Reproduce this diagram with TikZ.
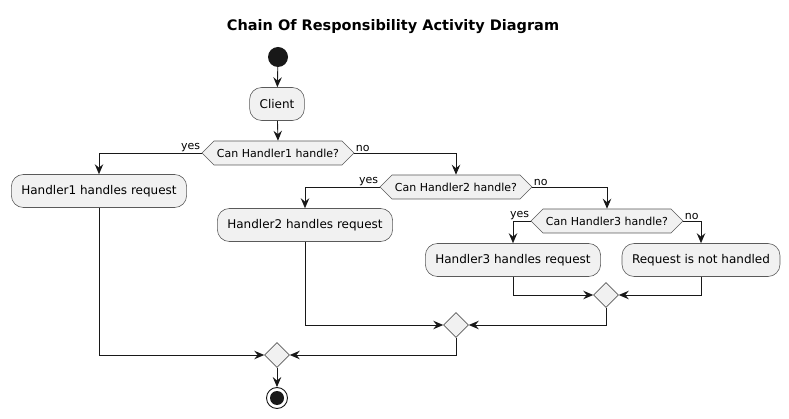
\documentclass[tikz,border=0pt]{standalone}
\usepackage{fontspec}
\setmainfont{DejaVu Sans}
\usetikzlibrary{arrows.meta,shapes.geometric,shapes.symbols}
\definecolor{boxfill}{HTML}{F1F1F1}
\definecolor{linecol}{HTML}{181818}
\definecolor{bordercol}{HTML}{5A5A5A}
\tikzset{
  actbox/.style={draw=bordercol, line width=0.6pt, fill=boxfill, rounded corners=12pt,
    minimum height=33pt, inner xsep=10pt, inner ysep=0pt, font=\fontsize{12}{14}\selectfont},
  choice/.style={signal, signal to=east and west, signal pointer angle=90, draw=bordercol,
    line width=0.6pt, fill=boxfill, minimum height=24pt, inner xsep=3pt, inner ysep=0pt,
    font=\fontsize{11}{13}\selectfont},
  merge/.style={diamond, draw=bordercol, line width=0.6pt, fill=boxfill, minimum width=25pt,
    minimum height=25pt, inner sep=0pt, aspect=1},
  flow/.style={draw=linecol, line width=0.9pt, -{Stealth[length=10pt,width=8.5pt,inset=3.5pt]}},
  lbl/.style={font=\fontsize{11}{13}\selectfont, inner sep=1.2pt}
}
\begin{document}
\begin{tikzpicture}[x=1pt,y=-1pt]
\useasboundingbox (0,0) rectangle (789,419);
\node[font=\bfseries\fontsize{14.5}{16}\selectfont] (title) at (393,27) {Chain Of Responsibility Activity Diagram};
\node[circle, fill=linecol, minimum size=20pt, inner sep=0pt] (start) at (278,57) {};
\node[actbox] (client) at (277,104) {Client};
\node[choice] (d1) at (278,153) {Can Handler1 handle?};
\node[actbox] (h1) at (99,191) {Handler1 handles request};
\node[choice] (d2) at (456,187) {Can Handler2 handle?};
\node[actbox] (h2) at (305,225) {Handler2 handles request};
\node[choice] (d3) at (607,221) {Can Handler3 handle?};
\node[actbox] (h3) at (513,260) {Handler3 handles request};
\node[actbox] (nh) at (701,260) {Request is not handled};
\node[merge] (m3) at (606,295) {};
\node[merge] (m2) at (456,325) {};
\node[merge] (m1) at (277,355) {};
\node[circle, draw=linecol, line width=0.9pt, fill=white, minimum size=21pt, inner sep=0pt] (stop) at (277,398) {};
\node[circle, fill=linecol, minimum size=14pt, inner sep=0pt] (stopin) at (277,398) {};

\draw[flow] (start) -- (client);
\draw[flow] (client) -- (d1.north);
\draw[flow] (d1.west) -| (h1.north);
\node[lbl, anchor=south east] (y1) at (d1.west) {yes};
\draw[flow] (d1.east) -| (d2.north);
\node[lbl, anchor=south west] (n1) at (d1.east) {no};
\draw[flow] (d2.west) -| (h2.north);
\node[lbl, anchor=south east] (y2) at (d2.west) {yes};
\draw[flow] (d2.east) -| (d3.north);
\node[lbl, anchor=south west] (n2) at (d2.east) {no};
\draw[flow] (d3.west) -| (h3.north);
\node[lbl, anchor=south east] (y3) at (d3.west) {yes};
\draw[flow] (d3.east) -| (nh.north);
\node[lbl, anchor=south west] (n3) at (d3.east) {no};
\draw[flow] (h3.south) |- (m3.west);
\draw[flow] (nh.south) |- (m3.east);
\draw[flow] (m3.south) |- (m2.east);
\draw[flow] (h2.south) |- (m2.west);
\draw[flow] (m2.south) |- (m1.east);
\draw[flow] (h1.south) |- (m1.west);
\draw[flow] (m1.south) -- (stop.north);
\end{tikzpicture}
\end{document}
